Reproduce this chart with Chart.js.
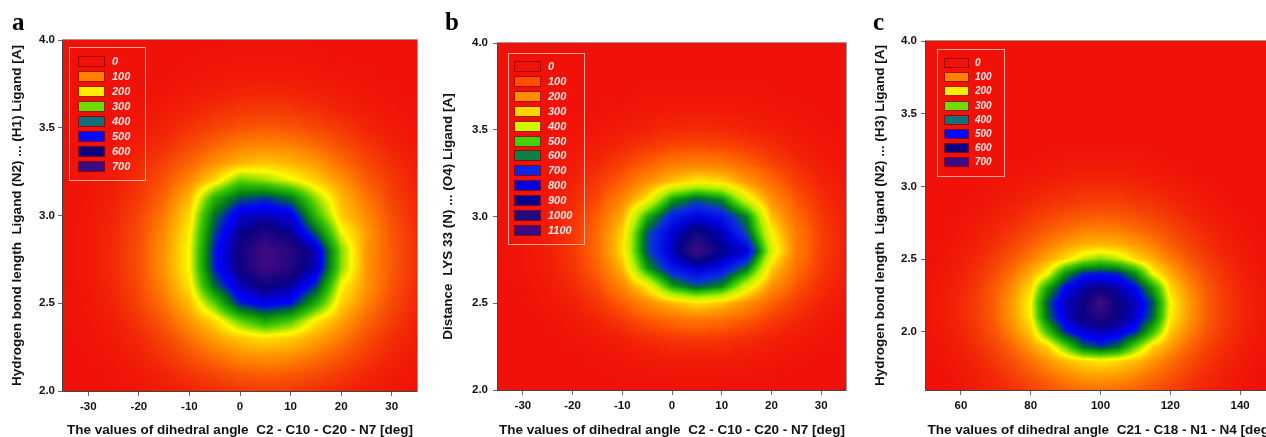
<!DOCTYPE html>
<html>
<head>
<meta charset="utf-8">
<script src="https://cdn.jsdelivr.net/npm/chart.js@4.4.1/dist/chart.umd.min.js"></script>
<style>
  html, body { margin: 0; padding: 0; background: #fff; overflow: hidden; width: 1266px; height: 437px; position: relative; }
  .panel { position: absolute; top: 0; width: 430px; height: 450px; }
</style>
</head>
<body>
<div class="panel" style="left:0"><canvas id="chartA" width="430" height="450"></canvas></div>
<div class="panel" style="left:430px"><canvas id="chartB" width="430" height="450"></canvas></div>
<div class="panel" style="left:860px"><canvas id="chartC" width="430" height="450"></canvas></div>
<script>
// panel a : dihedral angle vs H-bond length, counts per grid node
const angleA = [-35, -30, -25, -20, -15, -10, -5, 0, 5, 10, 15, 20, 25, 30, 35];
const lengthA = [4.0, 3.9, 3.8, 3.7, 3.6, 3.5, 3.4, 3.3, 3.2, 3.1, 3.0, 2.9, 2.8, 2.7, 2.6, 2.5, 2.4, 2.3, 2.2, 2.1, 2.0];
const countsA = [
  [0, 0, 0, 0, 0, 0, 0, 0, 0, 0, 0, 0, 0, 0, 0],
  [0, 0, 0, 0, 0, 0, 1, 2, 2, 2, 1, 0, 0, 0, 0],
  [0, 0, 0, 0, 0, 2, 4, 6, 6, 6, 4, 2, 1, 0, 0],
  [0, 0, 0, 0, 2, 6, 10, 14, 15, 14, 11, 7, 3, 1, 0],
  [0, 0, 0, 2, 7, 13, 22, 30, 33, 31, 23, 14, 7, 3, 0],
  [0, 0, 1, 5, 13, 26, 41, 54, 60, 55, 44, 30, 15, 7, 2],
  [0, 0, 2, 11, 23, 44, 67, 90, 98, 92, 74, 50, 28, 13, 4],
  [0, 1, 5, 17, 38, 67, 104, 135, 150, 138, 112, 76, 43, 23, 7],
  [0, 2, 8, 25, 54, 98, 170, 280, 255, 210, 160, 108, 63, 32, 11],
  [0, 3, 12, 32, 70, 140, 330, 430, 455, 405, 255, 143, 84, 40, 15],
  [0, 4, 15, 42, 88, 170, 410, 540, 555, 530, 320, 160, 100, 50, 18],
  [0, 5, 18, 48, 100, 190, 450, 590, 640, 590, 430, 210, 115, 57, 22],
  [0, 5, 20, 52, 108, 200, 480, 615, 712, 660, 560, 265, 110, 60, 24],
  [0, 5, 20, 52, 108, 200, 478, 605, 700, 650, 555, 262, 110, 60, 24],
  [0, 4, 17, 47, 98, 180, 415, 555, 610, 580, 460, 200, 110, 55, 20],
  [0, 3, 14, 40, 82, 145, 290, 475, 520, 490, 340, 165, 94, 46, 17],
  [0, 2, 9, 29, 60, 110, 170, 280, 350, 300, 185, 122, 70, 35, 12],
  [0, 1, 6, 18, 41, 78, 118, 155, 175, 160, 125, 88, 50, 23, 8],
  [0, 0, 3, 13, 27, 52, 78, 102, 110, 104, 82, 58, 33, 15, 5],
  [0, 0, 1, 6, 14, 29, 44, 60, 65, 61, 48, 33, 17, 8, 2],
  [0, 0, 0, 2, 7, 14, 22, 32, 35, 33, 25, 15, 8, 3, 1]
];

// panel b : dihedral angle vs LYS 33 distance
const angleB = [-35, -30, -25, -20, -15, -10, -5, 0, 5, 10, 15, 20, 25, 30, 35];
const lengthB = [4.0, 3.9, 3.8, 3.7, 3.6, 3.5, 3.4, 3.3, 3.2, 3.1, 3.0, 2.9, 2.8, 2.7, 2.6, 2.5, 2.4, 2.3, 2.2, 2.1, 2.0];
const countsB = [
  [0, 0, 0, 0, 0, 0, 0, 0, 0, 0, 0, 0, 0, 0, 0],
  [0, 0, 0, 0, 0, 0, 0, 0, 0, 0, 0, 0, 0, 0, 0],
  [0, 0, 0, 0, 0, 0, 0, 0, 0, 0, 0, 0, 0, 0, 0],
  [0, 0, 0, 0, 0, 0, 2, 3, 4, 3, 2, 1, 0, 0, 0],
  [0, 0, 0, 0, 1, 4, 8, 11, 12, 11, 8, 5, 2, 0, 0],
  [0, 0, 0, 2, 5, 12, 19, 27, 31, 28, 20, 13, 6, 2, 0],
  [0, 0, 1, 5, 13, 26, 46, 64, 70, 65, 50, 31, 14, 6, 2],
  [0, 0, 3, 11, 26, 56, 92, 136, 150, 140, 100, 62, 30, 13, 4],
  [0, 0, 5, 18, 46, 92, 172, 245, 300, 275, 188, 108, 52, 21, 7],
  [0, 1, 8, 28, 64, 155, 290, 550, 640, 580, 345, 175, 82, 33, 11],
  [0, 3, 12, 38, 92, 215, 530, 725, 790, 745, 590, 240, 110, 46, 14],
  [0, 3, 13, 44, 110, 265, 650, 810, 970, 850, 660, 310, 138, 52, 16],
  [0, 3, 13, 44, 112, 280, 655, 830, 1100, 900, 820, 360, 140, 53, 16],
  [0, 3, 12, 39, 96, 225, 560, 745, 815, 765, 610, 260, 115, 47, 15],
  [0, 1, 8, 28, 66, 160, 300, 560, 650, 590, 360, 180, 82, 33, 11],
  [0, 0, 5, 15, 43, 88, 165, 230, 280, 245, 172, 96, 47, 19, 6],
  [0, 0, 1, 7, 21, 46, 80, 108, 125, 112, 83, 50, 26, 8, 2],
  [0, 0, 0, 3, 8, 16, 32, 45, 50, 46, 34, 19, 9, 4, 0],
  [0, 0, 0, 0, 2, 6, 12, 15, 16, 15, 12, 7, 3, 0, 0],
  [0, 0, 0, 0, 0, 1, 3, 4, 5, 4, 3, 1, 0, 0, 0],
  [0, 0, 0, 0, 0, 0, 0, 0, 0, 0, 0, 0, 0, 0, 0]
];

// panel c : dihedral angle C21-C18-N1-N4 vs H-bond length
const angleC = [50, 55, 60, 65, 70, 75, 80, 85, 90, 95, 100, 105, 110, 115, 120, 125, 130, 135, 140, 145, 150];
const lengthC = [4.0, 3.9, 3.8, 3.7, 3.6, 3.5, 3.4, 3.3, 3.2, 3.1, 3.0, 2.9, 2.8, 2.7, 2.6, 2.5, 2.4, 2.3, 2.2, 2.1, 2.0, 1.9, 1.8, 1.7, 1.6];
const countsC = [
  [0, 0, 0, 0, 0, 0, 0, 0, 0, 0, 0, 0, 0, 0, 0, 0, 0, 0, 0, 0, 0],
  [0, 0, 0, 0, 0, 0, 0, 0, 0, 0, 0, 0, 0, 0, 0, 0, 0, 0, 0, 0, 0],
  [0, 0, 0, 0, 0, 0, 0, 0, 0, 0, 0, 0, 0, 0, 0, 0, 0, 0, 0, 0, 0],
  [0, 0, 0, 0, 0, 0, 0, 0, 0, 0, 0, 0, 0, 0, 0, 0, 0, 0, 0, 0, 0],
  [0, 0, 0, 0, 0, 0, 0, 0, 0, 0, 0, 0, 0, 0, 0, 0, 0, 0, 0, 0, 0],
  [0, 0, 0, 0, 0, 0, 0, 0, 0, 0, 0, 0, 0, 0, 0, 0, 0, 0, 0, 0, 0],
  [0, 0, 0, 0, 0, 0, 0, 0, 0, 0, 0, 0, 0, 0, 0, 0, 0, 0, 0, 0, 0],
  [0, 0, 0, 0, 0, 0, 0, 0, 0, 0, 0, 0, 0, 0, 0, 0, 0, 0, 0, 0, 0],
  [0, 0, 0, 0, 0, 0, 0, 1, 3, 4, 4, 4, 3, 1, 0, 0, 0, 0, 0, 0, 0],
  [0, 0, 0, 0, 0, 1, 3, 5, 8, 10, 10, 10, 8, 5, 3, 1, 0, 0, 0, 0, 0],
  [0, 0, 0, 0, 2, 5, 9, 13, 17, 20, 21, 20, 17, 13, 9, 5, 2, 0, 0, 0, 0],
  [0, 0, 0, 1, 5, 10, 17, 24, 30, 35, 37, 35, 30, 24, 17, 10, 5, 1, 0, 0, 0],
  [0, 0, 1, 4, 10, 18, 29, 40, 50, 57, 60, 57, 50, 40, 29, 18, 10, 4, 1, 0, 0],
  [0, 0, 3, 8, 17, 29, 44, 62, 76, 89, 92, 89, 76, 62, 44, 29, 17, 8, 3, 0, 0],
  [0, 1, 5, 13, 25, 42, 63, 89, 114, 133, 142, 133, 114, 89, 63, 42, 25, 13, 5, 1, 0],
  [0, 2, 9, 19, 36, 59, 91, 130, 172, 235, 265, 235, 172, 130, 91, 59, 36, 19, 9, 2, 0],
  [0, 4, 13, 27, 50, 83, 130, 203, 378, 470, 486, 470, 378, 203, 130, 83, 50, 27, 13, 4, 0],
  [1, 6, 16, 34, 62, 105, 172, 360, 505, 572, 600, 572, 505, 360, 172, 105, 62, 34, 16, 6, 1],
  [1, 7, 18, 38, 68, 118, 200, 435, 555, 600, 705, 600, 555, 435, 200, 118, 68, 38, 18, 7, 1],
  [1, 7, 18, 37, 67, 115, 192, 420, 540, 610, 650, 610, 540, 420, 192, 115, 67, 37, 18, 7, 1],
  [1, 5, 15, 32, 58, 98, 156, 315, 470, 535, 558, 535, 470, 315, 156, 98, 58, 32, 15, 5, 1],
  [0, 3, 11, 24, 44, 73, 115, 168, 285, 420, 460, 420, 285, 168, 115, 73, 44, 24, 11, 3, 0],
  [0, 1, 7, 16, 31, 51, 78, 110, 145, 172, 185, 172, 145, 110, 78, 51, 31, 16, 7, 1, 0],
  [0, 0, 4, 11, 21, 37, 56, 76, 98, 115, 120, 115, 98, 76, 56, 37, 21, 11, 4, 0, 0],
  [0, 0, 2, 7, 14, 24, 38, 52, 65, 75, 78, 75, 65, 52, 38, 24, 14, 7, 2, 0, 0]
];

const levelsAC = [0, 100, 200, 300, 400, 500, 600, 700];
const levelsB = [0, 100, 200, 300, 400, 500, 600, 700, 800, 900, 1000, 1100];
const xTicksAB = [-30, -20, -10, 0, 10, 20, 30];
const xTicksC = [60, 80, 100, 120, 140];
const yTicks = [2.0, 2.5, 3.0, 3.5, 4.0];

// legend swatches
const keyColorsAC = ['#f01208', '#ff8000', '#ffee00', '#6edc00', '#146e78', '#000aff', '#0a0082', '#3c0a82'];
const keyColorsB = ['#f01208', '#ff5000', '#ff8c00', '#ffd700', '#d2f500', '#46d200', '#0a8246', '#0a28e6', '#0000dc', '#00008c', '#1e0a82', '#3c0a82'];
// shading inside the plot
const heatColorsAC = ['#f01208', '#ff8a00', '#fffa00', '#3cc800', '#007d14', '#0000ff', '#0a0082', '#3c0a82'];
const heatColorsB = ['#f01208', '#ff6400', '#ffa000', '#fff000', '#b4f000', '#32c800', '#007d1e', '#0a28e6', '#0000dc', '#00008c', '#1e0a82', '#3c0a82'];

const FONT = 'Liberation Sans';

function toRgb(hex) {
  return [parseInt(hex.slice(1, 3), 16), parseInt(hex.slice(3, 5), 16), parseInt(hex.slice(5, 7), 16)];
}

function segment(arr, t) {
  let i = 0;
  while (i < arr.length - 2 && t > arr[i + 1]) i++;
  return i;
}

// paints the count grid through the chart scales, bilinear between nodes
const heatPlugin = {
  id: 'heat',
  beforeDatasetsDraw(chart, args, opts) {
    const area = chart.chartArea, sx = chart.scales.x, sy = chart.scales.y;
    const pts = chart.data.datasets[0].data;
    const gx = [...new Set(pts.map(p => p.x))].sort((a, b) => a - b);
    const gy = [...new Set(pts.map(p => p.y))].sort((a, b) => a - b);
    const grid = gy.map(() => gx.map(() => 0));
    pts.forEach(p => { grid[gy.indexOf(p.y)][gx.indexOf(p.x)] = p.v; });
    const rgb = opts.colors.map(toRgb);
    const lv = opts.levels;
    const left = Math.round(area.left), top = Math.round(area.top);
    const w = Math.round(area.right) - left, h = Math.round(area.bottom) - top;
    const off = document.createElement('canvas');
    off.width = w; off.height = h;
    const octx = off.getContext('2d');
    const img = octx.createImageData(w, h);
    const colIdx = [], colT = [];
    for (let i = 0; i < w; i++) {
      const xv = sx.getValueForPixel(left + i + 0.5);
      const ix = segment(gx, xv);
      colIdx.push(ix);
      colT.push(Math.min(1, Math.max(0, (xv - gx[ix]) / (gx[ix + 1] - gx[ix]))));
    }
    for (let j = 0; j < h; j++) {
      const yv = sy.getValueForPixel(top + j + 0.5);
      const iy = segment(gy, yv);
      const ty = Math.min(1, Math.max(0, (yv - gy[iy]) / (gy[iy + 1] - gy[iy])));
      for (let i = 0; i < w; i++) {
        const ix = colIdx[i], tx = colT[i];
        const v0 = grid[iy][ix] * (1 - tx) + grid[iy][ix + 1] * tx;
        const v1 = grid[iy + 1][ix] * (1 - tx) + grid[iy + 1][ix + 1] * tx;
        const v = v0 * (1 - ty) + v1 * ty;
        const k = Math.min(segment(lv, v), lv.length - 2);
        const t = Math.min(1, Math.max(0, (v - lv[k]) / (lv[k + 1] - lv[k])));
        const c0 = rgb[k], c1 = rgb[k + 1];
        const o = (j * w + i) * 4;
        img.data[o] = c0[0] + (c1[0] - c0[0]) * t;
        img.data[o + 1] = c0[1] + (c1[1] - c0[1]) * t;
        img.data[o + 2] = c0[2] + (c1[2] - c0[2]) * t;
        img.data[o + 3] = 255;
      }
    }
    octx.putImageData(img, 0, 0);
    chart.ctx.drawImage(off, left, top);
  }
};

const framePlugin = {
  id: 'frame',
  afterDatasetsDraw(chart) {
    const {ctx, chartArea: a} = chart;
    ctx.save();
    ctx.lineWidth = 1;
    ctx.strokeStyle = '#9a9a9a';
    ctx.beginPath();
    ctx.moveTo(a.left, a.top - 0.5); ctx.lineTo(a.right + 0.5, a.top - 0.5); ctx.lineTo(a.right + 0.5, a.bottom);
    ctx.stroke();
    ctx.strokeStyle = '#444';
    ctx.beginPath();
    ctx.moveTo(a.left - 0.5, a.top - 0.5); ctx.lineTo(a.left - 0.5, a.bottom + 0.5); ctx.lineTo(a.right + 0.5, a.bottom + 0.5);
    ctx.stroke();
    ctx.restore();
  }
};

const keyPlugin = {
  id: 'levelKey',
  afterDatasetsDraw(chart, args, o) {
    const {ctx, chartArea: a} = chart;
    ctx.save();
    ctx.lineWidth = 1;
    ctx.strokeStyle = 'rgba(255,200,195,0.8)';
    ctx.strokeRect(Math.round(a.left + o.box[0]) + 0.5, Math.round(a.top + o.box[1]) + 0.5, o.box[2], o.box[3]);
    ctx.font = 'italic bold ' + o.fontSize + 'px "' + FONT + '"';
    ctx.textBaseline = 'middle';
    o.levels.forEach((lv, k) => {
      const x = Math.round(a.left + o.swatch[0]);
      const y = Math.round(a.top + o.swatch[1] + k * o.step);
      ctx.fillStyle = o.colors[k];
      ctx.fillRect(x, y, o.swatch[2], o.swatch[3]);
      ctx.strokeStyle = 'rgba(150,0,0,0.85)';
      ctx.strokeRect(x + 0.5, y + 0.5, o.swatch[2] - 1, o.swatch[3] - 1);
      ctx.fillStyle = '#fce6e4';
      ctx.fillText(String(lv), a.left + o.labelX, y + o.swatch[3] / 2 + 0.5);
    });
    ctx.restore();
  }
};

const letterPlugin = {
  id: 'panelLetter',
  afterDraw(chart, args, o) {
    const ctx = chart.ctx;
    ctx.save();
    ctx.font = 'bold 25px "Liberation Serif"';
    ctx.fillStyle = '#000';
    ctx.textBaseline = 'alphabetic';
    ctx.fillText(o.text, o.x, o.y);
    ctx.restore();
  }
};

function heatChart(id, cfg) {
  const points = [];
  cfg.ys.forEach((y, j) => cfg.xs.forEach((x, i) => points.push({x: x, y: y, v: cfg.z[j][i]})));
  return new Chart(document.getElementById(id), {
    type: 'scatter',
    data: {datasets: [{label: 'counts', data: points, pointRadius: 0, pointHoverRadius: 0}]},
    options: {
      responsive: false,
      animation: false,
      events: [],
      layout: {padding: {top: cfg.top, right: cfg.right, left: 0, bottom: 0}},
      plugins: {
        legend: {display: false},
        tooltip: {enabled: false},
        heat: {levels: cfg.levels, colors: cfg.heatColors},
        levelKey: Object.assign({levels: cfg.levels, colors: cfg.keyColors}, cfg.key),
        panelLetter: cfg.letter
      },
      scales: {
        x: {
          type: 'linear', min: cfg.xMin, max: cfg.xMax,
          afterFit(s) { s.height = cfg.xAxisH; },
          afterBuildTicks(s) { s.ticks = cfg.xTicks.map(v => ({value: v})); },
          grid: {drawOnChartArea: false, tickLength: 5, color: '#666'},
          border: {display: false},
          ticks: {font: {family: FONT, size: 11.5, weight: 'bold'}, color: '#111', padding: 4, maxRotation: 0, autoSkip: false},
          title: {display: true, text: cfg.xTitle, color: '#111', font: {family: FONT, size: 13.5, weight: 'bold'}, padding: {top: 0, bottom: 11.4}}
        },
        y: {
          type: 'linear', min: cfg.yMin, max: cfg.yMax,
          afterFit(s) { s.width = cfg.yAxisW; },
          afterBuildTicks(s) { s.ticks = yTicks.map(v => ({value: v})); },
          grid: {drawOnChartArea: false, tickLength: 5, color: '#666'},
          border: {display: false},
          ticks: {font: {family: FONT, size: 11.5, weight: 'bold'}, color: '#111', padding: cfg.yPad, callback: v => v.toFixed(1)},
          title: {display: true, text: cfg.yTitle, color: '#111', font: {family: FONT, size: 13.5, weight: 'bold'}, padding: {top: cfg.yTitlePad, bottom: 0}}
        }
      }
    },
    plugins: [heatPlugin, framePlugin, keyPlugin, letterPlugin]
  });
}

heatChart('chartA', {
  xs: angleA, ys: lengthA, z: countsA, levels: levelsAC, heatColors: heatColorsAC, keyColors: keyColorsAC,
  xMin: -35, xMax: 35, yMin: 2.0, yMax: 4.0, xTicks: xTicksAB,
  top: 40, right: 13, xAxisH: 59, yAxisW: 63, yPad: 3, yTitlePad: 8.9,
  xTitle: 'The values of dihedral angle  C2 - C10 - C20 - N7 [deg]',
  yTitle: 'Hydrogen bond length  Ligand (N2) ... (H1) Ligand [A]',
  key: {box: [6, 7, 76, 133], swatch: [15, 16, 27, 11], step: 15, labelX: 49, fontSize: 11},
  letter: {text: 'a', x: 12, y: 30}
});

heatChart('chartB', {
  xs: angleB, ys: lengthB, z: countsB, levels: levelsB, heatColors: heatColorsB, keyColors: keyColorsB,
  xMin: -35, xMax: 35, yMin: 2.0, yMax: 4.0, xTicks: xTicksAB,
  top: 43, right: 14, xAxisH: 60, yAxisW: 68, yPad: 5, yTitlePad: 9.9,
  xTitle: 'The values of dihedral angle  C2 - C10 - C20 - N7 [deg]',
  yTitle: 'Distance  LYS 33 (N) ... (O4) Ligand [A]',
  key: {box: [10, 10, 76, 191], swatch: [16, 18, 27, 11], step: 14.9, labelX: 50, fontSize: 11},
  letter: {text: 'b', x: 15, y: 30}
});

heatChart('chartC', {
  xs: angleC, ys: lengthC, z: countsC, levels: levelsAC, heatColors: heatColorsAC, keyColors: keyColorsAC,
  xMin: 50, xMax: 150, yMin: 1.6, yMax: 4.0, xTicks: xTicksC,
  top: 41, right: 15, xAxisH: 60, yAxisW: 66, yPad: 4, yTitlePad: 11.9,
  xTitle: 'The values of dihedral angle  C21 - C18 - N1 - N4 [deg]',
  yTitle: 'Hydrogen bond length  Ligand (N2) ... (H3) Ligand [A]',
  key: {box: [11, 8, 67, 127], swatch: [18, 17, 25, 10], step: 14.2, labelX: 49, fontSize: 10},
  letter: {text: 'c', x: 13, y: 30}
});
</script>
</body>
</html>
